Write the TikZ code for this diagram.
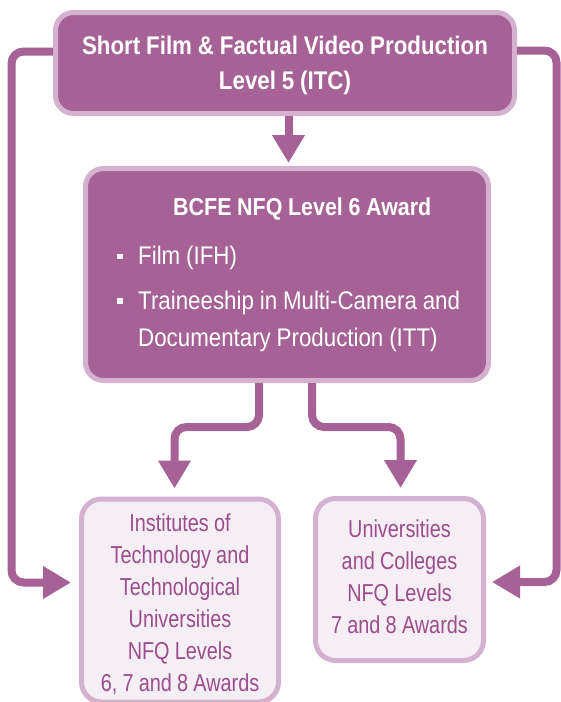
\documentclass[tikz,border=0pt]{standalone}
\usepackage{fontspec}
\setmainfont{Liberation Sans}[FakeStretch=0.875,WordSpace=0.95]
\newfontfamily\narrowsans{Liberation Sans}[FakeStretch=0.81,WordSpace=0.95]
\usetikzlibrary{arrows.meta}
\definecolor{plum}{HTML}{A66297}
\definecolor{plumlight}{HTML}{D5B1D0}
\definecolor{plumpale}{HTML}{F5EFF5}
\definecolor{plumtext}{HTML}{9C4D8E}
\begin{document}
\begin{tikzpicture}[x=1pt,y=-1pt,
  darkbox/.style={draw=plumlight, fill=plum, line width=5pt, rounded corners=18pt, inner sep=0pt},
  lightbox/.style={draw=plumlight, fill=plumpale, line width=5pt, rounded corners=20pt, inner sep=0pt},
  conn/.style={draw=plum, line width=8pt, rounded corners=12pt, -{Triangle[length=28pt,width=31pt]}},
  darktext/.style={text=white, inner sep=0pt, font=\fontsize{25.5}{35}\selectfont},
  lighttext/.style={text=plumtext, inner sep=0pt, align=flush center, font=\narrowsans\fontsize{24.5}{32}\selectfont},
]
\path[use as bounding box, fill=white] (0,0) rectangle (561,702);

% boxes
\node[darkbox, minimum width=459pt, minimum height=101pt] (top) at (285,63) {};
\node[darkbox, minimum width=403pt, minimum height=212pt] (mid) at (287,274.5) {};
\node[lightbox, minimum width=197pt, minimum height=203pt] (bl) at (180,600.5) {};
\node[lightbox, minimum width=168pt, minimum height=162pt] (br) at (399.5,579.5) {};

% texts
\node[darktext, font=\fontsize{25.5}{35}\selectfont\bfseries, text width=440pt, align=flush center, anchor=base] (toptext) at (285,54)
  {Short Film \& Factual Video Production\\Level 5 (ITC)};
\node[darktext, font=\fontsize{24.5}{35}\selectfont\bfseries, anchor=base west] (midtitle) at (173,215) {BCFE NFQ Level 6 Award};
\node[darktext, anchor=base west] (item1) at (138,264) {Film (IFH)};
\node[darktext, font=\fontsize{25.5}{37}\selectfont, text width=345pt, align=flush left, anchor=base west] (item2) at (138,309)
  {Traineeship in Multi-Camera and\\Documentary Production (ITT)};
\fill[white] (117,253.5) rectangle (122.5,259);
\fill[white] (117,298) rectangle (122.5,303.5);

\node[lighttext, text width=200pt, anchor=base] (bltext) at (180,531)
  {Institutes of\\Technology and\\Technological\\Universities\\NFQ Levels\\6, 7 and 8 Awards};
\node[lighttext, text width=170pt, anchor=base] (brtext) at (399.5,537)
  {Universities\\and Colleges\\NFQ Levels\\7 and 8 Awards};

% helper coordinates
\coordinate (lrail) at (11.5,0);
\coordinate (rrail) at (556.5,0);
\coordinate (joint) at (0,427);
\coordinate (topl) at ([yshift=11.5pt]top.west);
\coordinate (topr) at ([yshift=12.5pt]top.east);
\coordinate (blin) at ([yshift=18pt]bl.west);
\coordinate (brin) at ([yshift=-2.5pt]br.east);
\coordinate (mids1) at ([xshift=-28pt]mid.south);
\coordinate (mids2) at ([xshift=25pt]mid.south);

% connectors
\draw[conn, shorten >=3pt] ([xshift=3.5pt]top.south) -- ([xshift=1.5pt]mid.north);
\draw[conn, shorten >=8pt] (topl) -| (lrail |- blin) -- (blin);
\draw[conn, shorten >=6pt] (topr) -| (rrail |- brin) -- (brin);
\draw[conn, shorten >=8pt] (mids1) -- (mids1 |- joint) -| ([xshift=-5.5pt]bl.north);
\draw[conn, shorten >=8pt] (mids2) -- (mids2 |- joint) -| ([xshift=1pt]br.north);
\end{tikzpicture}
\end{document}
